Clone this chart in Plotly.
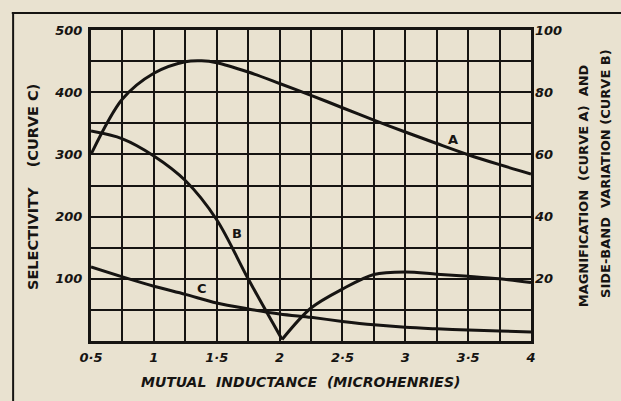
import plotly.graph_objects as go

# ---- data ----
x_a = [0.5, 0.75, 1.0, 1.25, 1.38, 1.5, 1.75, 2.0, 2.25, 2.5, 2.75, 3.0, 3.25, 3.5, 3.75, 4.0]
magnification_a = [60, 77.8, 86.1, 89.8, 90.1, 89.5, 86.5, 82.8, 79.0, 75.0, 71.0, 67.2, 63.5, 59.9, 56.7, 53.7]

x_b_fall = [0.5, 0.75, 1.0, 1.25, 1.5, 1.75, 2.02]
sideband_b_fall = [67.5, 65.0, 59.5, 51.6, 39.0, 20.0, 0.5]
x_b_rise = [2.02, 2.25, 2.5, 2.75, 3.0, 3.25, 3.5, 3.75, 4.0]
sideband_b_rise = [0.5, 10.6, 16.7, 21.4, 22.2, 21.5, 20.8, 20.0, 18.8]

x_c = [0.5, 0.75, 1.0, 1.25, 1.5, 1.75, 2.0, 2.25, 2.5, 2.75, 3.0, 3.25, 3.5, 3.75, 4.0]
selectivity_c = [119, 103, 88, 75, 61, 51.6, 43.5, 38, 31.5, 26, 22, 19.5, 17.5, 16, 14.5]

x_ticks = [0.5, 1.0, 1.5, 2.0, 2.5, 3.0, 3.5, 4.0]
x_tick_text = ["0·5", "1", "1·5", "2", "2·5", "3", "3·5", "4"]
left_ticks = [100, 200, 300, 400, 500]
right_ticks = [20, 40, 60, 80, 100]

curve_labels = ["A", "B", "C"]
label_x = [3.38, 1.66, 1.38]
label_y = [64.8, 34.5, 84]
label_axis = ["y2", "y2", "y"]

INK = "#161412"
BG = "#e9e2d0"
FONT = "DejaVu Sans"

fig = go.Figure()

line = dict(color=INK, width=3, shape="spline", smoothing=0.9)
fig.add_trace(go.Scatter(x=x_c, y=selectivity_c, mode="lines", line=line, yaxis="y", showlegend=False))
fig.add_trace(go.Scatter(x=x_a, y=magnification_a, mode="lines", line=line, yaxis="y2", showlegend=False))
fig.add_trace(go.Scatter(x=x_b_fall, y=sideband_b_fall, mode="lines", line=line, yaxis="y2", showlegend=False))
fig.add_trace(go.Scatter(x=x_b_rise, y=sideband_b_rise, mode="lines", line=line, yaxis="y2", showlegend=False))

# grid positions: every 0.25 on x, every 50 on left axis
x_grid = [0.5 + 0.25 * i for i in range(15)]
x_grid_text = [x_tick_text[x_ticks.index(v)] if v in x_ticks else "" for v in x_grid]
y_grid = [50 * i for i in range(11)]
y_grid_text = [str(v) if v in left_ticks else "" for v in y_grid]

tickfont = dict(family=FONT, size=13, color=INK, weight="bold", style="italic")

fig.update_layout(
    width=621, height=401,
    margin=dict(l=91, r=90, t=30, b=60),
    paper_bgcolor=BG, plot_bgcolor=BG,
    xaxis=dict(range=[0.5, 4.0], tickvals=x_grid, ticktext=x_grid_text,
               showgrid=True, gridcolor=INK, gridwidth=2,
               showline=True, linecolor=INK, linewidth=3, mirror=True,
               zeroline=False, ticks="", tickfont=tickfont, ticklabelstandoff=2),
    yaxis=dict(range=[0, 500], tickvals=y_grid, ticktext=y_grid_text,
               showgrid=True, gridcolor=INK, gridwidth=2,
               showline=True, linecolor=INK, linewidth=3, mirror=True,
               zeroline=False, ticks="", tickfont=tickfont, ticklabelstandoff=3),
    yaxis2=dict(range=[0, 100], overlaying="y", side="right",
                tickvals=right_ticks, ticktext=[str(v) for v in right_ticks],
                showgrid=False, zeroline=False, showline=False, ticks="",
                tickfont=tickfont, ticklabelstandoff=3),
)

for t, xv, yv, ax in zip(curve_labels, label_x, label_y, label_axis):
    fig.add_annotation(x=xv, y=yv, xref="x", yref=ax, text=t, showarrow=False,
                       font=dict(family=FONT, size=13, color=INK, weight="bold"))

fig.add_annotation(x=0.475, y=-0.133, xref="paper", yref="paper", yanchor="middle",
                   text="MUTUAL  INDUCTANCE  (MICROHENRIES)", showarrow=False,
                   font=dict(family=FONT, size=14, color=INK, style="italic", weight="bold"))
fig.add_annotation(x=-0.132, y=0.495, xref="paper", yref="paper", xanchor="center",
                   text="SELECTIVITY    (CURVE C)", textangle=-90, showarrow=False,
                   font=dict(family=FONT, size=14.5, color=INK, weight="bold"))
fig.add_annotation(x=1.12, y=0.50, xref="paper", yref="paper", xanchor="center",
                   text="MAGNIFICATION  (CURVE A)  AND", textangle=-90, showarrow=False,
                   font=dict(family=FONT, size=13, color=INK, weight="bold"))
fig.add_annotation(x=1.168, y=0.54, xref="paper", yref="paper", xanchor="center",
                   text="SIDE-BAND  VARIATION (CURVE B)", textangle=-90, showarrow=False,
                   font=dict(family=FONT, size=13, color=INK, weight="bold"))

# outer frame lines (left and top)
fig.add_shape(type="line", xref="paper", yref="paper", x0=-0.177, x1=-0.177, y0=1.055, y1=-0.2,
              line=dict(color=INK, width=2))
fig.add_shape(type="line", xref="paper", yref="paper", x0=-0.18, x1=1.21, y0=1.055, y1=1.055,
              line=dict(color=INK, width=2))

fig.write_html("out.html", config={"displayModeBar": False},
               post_script="document.body.style.margin='0';document.body.style.background='%s';" % BG)
